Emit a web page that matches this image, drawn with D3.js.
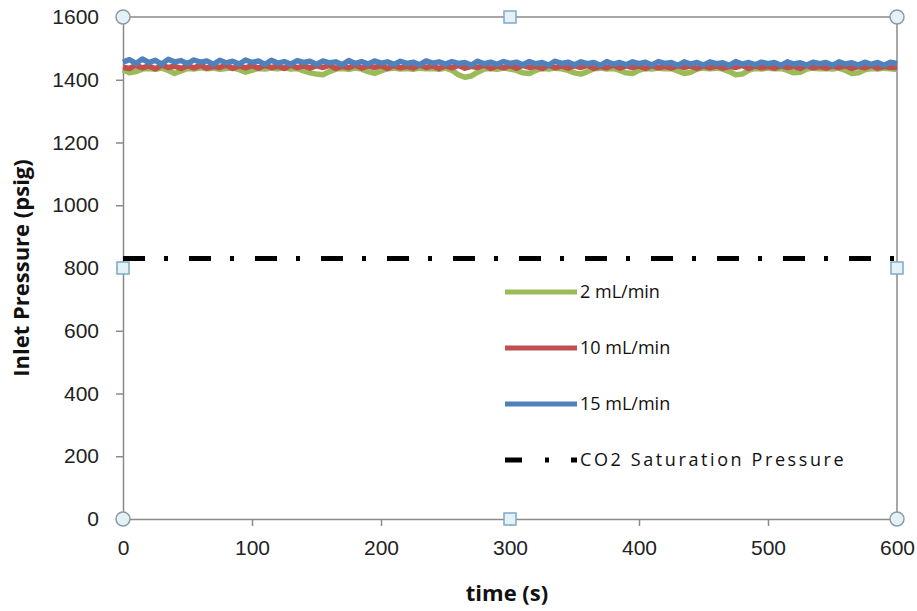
<!DOCTYPE html>
<meta charset="utf-8">
<style>
body { margin: 0; background: #fff; font-family: "Open Sans", "Liberation Sans", sans-serif; }
.axis text { font-size: 21px; fill: #222; }
.axis path, .axis line { stroke: #8a8a8a; stroke-width: 1.5px; }
.title { font-size: 22px; font-weight: bold; fill: #111; }
.legend text { font-size: 18px; fill: #111; }
</style>
<body>
<script src="https://d3js.org/d3.v7.min.js"></script>
<script>
// sampled every 5 s, 0..600
var times = d3.range(0, 605, 5);

var flow2 = [
  1432,1422,1426,1434,1436,1433,1437,1430,1420,1428,
  1436,1434,1438,1435,1437,1433,1436,1438,1432,1424,
  1430,1436,1434,1437,1435,1438,1434,1436,1428,1422,
  1418,1416,1426,1434,1436,1433,1437,1434,1426,1420,
  1428,1435,1437,1434,1436,1433,1437,1435,1436,1433,
  1437,1430,1416,1408,1412,1424,1434,1436,1433,1437,
  1434,1430,1422,1420,1430,1436,1434,1437,1435,1430,
  1422,1418,1426,1435,1437,1434,1436,1430,1422,1420,
  1430,1436,1434,1437,1435,1436,1428,1420,1424,1434,
  1437,1435,1437,1434,1426,1416,1418,1430,1436,1434,
  1437,1435,1436,1430,1422,1424,1434,1437,1435,1436,
  1434,1437,1430,1420,1422,1432,1436,1434,1437,1435,
  1433
];

var flow10 = [
  1440,1436,1446,1438,1444,1435,1447,1439,1443,1436,
  1445,1438,1446,1437,1443,1439,1447,1436,1444,1438,
  1445,1437,1446,1439,1443,1436,1447,1438,1444,1437,
  1445,1439,1446,1436,1443,1438,1447,1437,1444,1439,
  1445,1436,1446,1438,1443,1437,1447,1439,1444,1436,
  1445,1438,1446,1437,1443,1439,1447,1436,1444,1438,
  1445,1437,1446,1439,1443,1436,1447,1438,1444,1437,
  1445,1439,1446,1436,1443,1438,1447,1437,1444,1439,
  1444,1436,1446,1438,1443,1437,1445,1439,1444,1436,
  1445,1438,1444,1437,1443,1439,1446,1436,1444,1438,
  1443,1437,1445,1439,1442,1436,1446,1438,1443,1437,
  1444,1439,1445,1436,1442,1438,1446,1437,1443,1439,
  1440
];

var flow15 = [
  1456,1464,1452,1466,1455,1462,1450,1465,1457,1461,
  1451,1463,1456,1460,1449,1462,1454,1459,1450,1463,
  1455,1460,1449,1462,1453,1458,1450,1461,1455,1459,
  1449,1460,1454,1457,1448,1461,1452,1458,1450,1460,
  1453,1457,1449,1459,1452,1456,1448,1460,1453,1457,
  1450,1458,1452,1455,1447,1459,1451,1456,1449,1458,
  1452,1456,1448,1458,1451,1455,1447,1459,1452,1456,
  1448,1457,1451,1455,1446,1458,1450,1455,1448,1457,
  1451,1456,1447,1458,1452,1455,1446,1457,1450,1455,
  1447,1457,1451,1454,1446,1458,1450,1455,1448,1456,
  1451,1455,1446,1457,1450,1454,1447,1456,1451,1455,
  1446,1457,1450,1454,1447,1456,1449,1455,1446,1456,
  1452
];

var co2Sat = 830;
var xTicks = [0, 100, 200, 300, 400, 500, 600];
var yTicks = [0, 200, 400, 600, 800, 1000, 1200, 1400, 1600];

var series = [
  { name: "2 mL/min", values: flow2, color: "#9bbb59" },
  { name: "10 mL/min", values: flow10, color: "#c0504d" },
  { name: "15 mL/min", values: flow15, color: "#4f81bd" }
];

var W = 917, H = 611;
var margin = { top: 17, right: 20, bottom: 92, left: 123 };
var width = W - margin.left - margin.right;
var height = H - margin.top - margin.bottom;

var svg = d3.select("body").append("svg")
    .attr("width", W)
    .attr("height", H)
  .append("g")
    .attr("transform", "translate(" + margin.left + "," + margin.top + ")");

var x = d3.scaleLinear().domain([0, 600]).range([0, width]);
var y = d3.scaleLinear().domain([0, 1600]).range([height, 0]);

// frame (top/right)
svg.append("path")
  .attr("d", "M0,0H" + width + "V" + height)
  .attr("fill", "none")
  .attr("stroke", "#8a8a8a")
  .attr("stroke-width", 1.5);

svg.append("g")
  .attr("class", "axis")
  .attr("transform", "translate(0," + height + ")")
  .call(d3.axisBottom(x).tickValues(xTicks).tickFormat(d3.format("d"))
    .tickSize(7).tickSizeOuter(0).tickPadding(14));

svg.append("g")
  .attr("class", "axis")
  .call(d3.axisLeft(y).tickValues(yTicks).tickFormat(d3.format("d"))
    .tickSize(7).tickSizeOuter(0).tickPadding(17));

var line = d3.line()
  .x(function(d, i) { return x(times[i]); })
  .y(function(d) { return y(d); });

series.forEach(function(s) {
  svg.append("path")
    .datum(s.values)
    .attr("fill", "none")
    .attr("stroke", s.color)
    .attr("stroke-width", 5.5)
    .attr("stroke-linejoin", "round")
    .attr("d", line);
});

svg.append("line")
  .attr("x1", x(0)).attr("x2", x(600))
  .attr("y1", y(co2Sat)).attr("y2", y(co2Sat))
  .attr("stroke", "#000")
  .attr("stroke-width", 5)
  .attr("stroke-dasharray", "22,19,4,21");

// axis titles
svg.append("text")
  .attr("class", "title")
  .attr("x", width / 2 - 3)
  .attr("y", height + 82)
  .attr("text-anchor", "middle")
  .text("time (s)");

svg.append("text")
  .attr("class", "title")
  .attr("transform", "translate(-94," + (height / 2) + ") rotate(-90)")
  .attr("text-anchor", "middle")
  .text("Inlet Pressure (psig)");

// legend
var legendItems = series.map(function(s) { return { name: s.name, color: s.color, dash: null, w: 5, ls: 0 }; });
legendItems.push({ name: "CO2 Saturation Pressure", color: "#000", dash: "17,23,4,22", w: 5, ls: 2.6 });

var legend = svg.selectAll(".legend")
    .data(legendItems)
  .enter().append("g")
    .attr("class", "legend")
    .attr("transform", function(d, i) { return "translate(382," + (275 + i * 56) + ")"; });

legend.append("line")
  .attr("x1", 0).attr("x2", 72)
  .attr("stroke", function(d) { return d.color; })
  .attr("stroke-width", function(d) { return d.w; })
  .attr("stroke-dasharray", function(d) { return d.dash; });

legend.append("text")
  .attr("x", 75)
  .attr("dy", "0.36em")
  .style("letter-spacing", function(d) { return d.ls + "px"; })
  .text(function(d) { return d.name; });

// selection handles
var corners = [[0, 0], [width, 0], [0, height], [width, height]];
var mids = [[width / 2, 0], [width / 2, height], [0, height / 2], [width, height / 2]];

svg.selectAll(".corner").data(corners).enter().append("circle")
  .attr("cx", function(d) { return d[0]; })
  .attr("cy", function(d) { return d[1]; })
  .attr("r", 7)
  .attr("fill", "#e4f2f7")
  .attr("stroke", "#8c9aa3")
  .attr("stroke-width", 1.5);

svg.selectAll(".mid").data(mids).enter().append("rect")
  .attr("x", function(d) { return d[0] - 6; })
  .attr("y", function(d) { return d[1] - 6; })
  .attr("width", 12).attr("height", 12)
  .attr("fill", "#e4f2f7")
  .attr("stroke", "#7fa9c9")
  .attr("stroke-width", 1.5);
</script>
</body>
